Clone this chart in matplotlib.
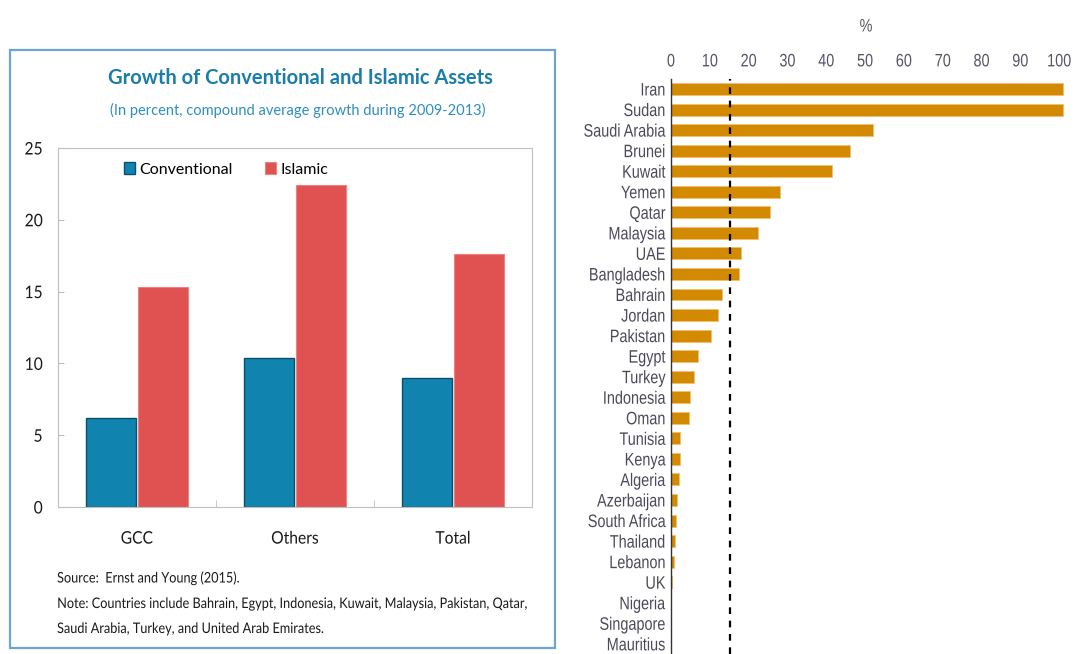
import matplotlib
matplotlib.use("Agg")
import matplotlib.pyplot as plt
from matplotlib.patches import Rectangle
from matplotlib.patheffects import AbstractPathEffect
from matplotlib.transforms import Affine2D
import numpy as np

# left panel data
groups = ["GCC", "Others", "Total"]
conventional = [6.2, 10.4, 9.0]
islamic = [15.3, 22.4, 17.6]

# right panel data
countries = ["Iran", "Sudan", "Saudi Arabia", "Brunei", "Kuwait", "Yemen", "Qatar",
             "Malaysia", "UAE", "Bangladesh", "Bahrain", "Jordan", "Pakistan", "Egypt",
             "Turkey", "Indonesia", "Oman", "Tunisia", "Kenya", "Algeria", "Azerbaijan",
             "South Africa", "Thailand", "Lebanon", "UK", "Nigeria", "Singapore", "Mauritius"]
share = [101.0, 101.0, 52.0, 46.0, 41.5, 28.0, 25.5, 22.5, 18.0, 17.6, 13.2, 12.0,
         10.2, 7.0, 6.0, 5.0, 4.7, 2.3, 2.3, 2.0, 1.5, 1.3, 1.1, 0.7, 0.2, 0.1, 0.1, 0.1]
threshold = 15.2


class Squeeze(AbstractPathEffect):
    """squeeze the glyphs sideways, no narrow font installed"""
    def __init__(self, sx, anchor="right"):
        super().__init__()
        self.sx = sx
        self.anchor = anchor

    def draw_path(self, renderer, gc, tpath, affine, rgbFace=None):
        ext = tpath.get_extents()
        if self.anchor == "right":
            cx = ext.x1
        elif self.anchor == "center":
            cx = (ext.x0 + ext.x1) / 2
        else:
            cx = ext.x0
        t = Affine2D().translate(-cx, 0).scale(self.sx, 1).translate(cx, 0)
        renderer.draw_path(gc, tpath, t + affine, rgbFace)


W, H = 1075, 654
fig = plt.figure(figsize=(W / 100, H / 100), dpi=100)

def fx(px):
    return px / W

def fy(py):
    return 1 - py / H

left_font = ["Lato", "DejaVu Sans"]
narrow = ["Liberation Sans", "DejaVu Sans"]

# box around the left panel
fig.patches.append(Rectangle((fx(10), fy(648)), fx(545), 598 / H, transform=fig.transFigure,
                             fill=False, edgecolor="#6FA3D6", linewidth=1.6))

fig.text(fx(300), fy(78), "Growth of Conventional and Islamic Assets", ha="center", va="center",
         fontsize=14.5, fontweight="bold", color="#1B7DAA", family=left_font)
fig.text(fx(298), fy(110), "(In percent, compound average growth during 2009-2013)", ha="center",
         va="center", fontsize=10.5, color="#2F8EC0", family=left_font)

ax = fig.add_axes([fx(58), fy(507), fx(474), (507 - 148) / H])
x = np.arange(len(groups))
bw = 0.32
ax.bar(x - bw / 2 - 0.005, conventional, bw, color="#1083AF", edgecolor="#0B4F6C",
       linewidth=1.0, label="Conventional")
ax.bar(x + bw / 2 + 0.005, islamic, bw, color="#E05252", edgecolor="#F08080",
       linewidth=0.8, label="Islamic")
ax.set_ylim(0, 25)
ax.set_xlim(-0.5, 2.5)
ax.set_yticks([0, 5, 10, 15, 20, 25])
ax.set_xticks(x)
ax.set_xticklabels(groups)
ax.set_xticks([0.5, 1.5], minor=True)
for s in ax.spines.values():
    s.set_color("#BFBFBF")
ax.tick_params(axis="y", direction="in", length=4, color="#BFBFBF", pad=11, labelsize=12.5)
ax.tick_params(axis="x", which="major", length=0, pad=17, labelsize=12.5)
ax.tick_params(axis="x", which="minor", direction="in", length=5, color="#BFBFBF")
for lbl in ax.get_xticklabels():
    lbl.set_family(left_font)
    lbl.set_color("#1A1A1A")
    lbl.set_path_effects([Squeeze(0.9, "center")])
for lbl in ax.get_yticklabels():
    lbl.set_family(left_font)
    lbl.set_color("#1A1A1A")
    lbl.set_path_effects([Squeeze(0.9, "right")])
ax.legend(loc="upper center", bbox_to_anchor=(0.355, 1.0), ncol=2, frameon=False,
          prop={"family": left_font, "size": 11.5}, handlelength=0.7, handleheight=0.7,
          handletextpad=0.3, columnspacing=2.0)

notes = ["Source:  Ernst and Young (2015).",
         "Note: Countries include Bahrain, Egypt, Indonesia, Kuwait, Malaysia, Pakistan, Qatar,",
         "Saudi Arabia, Turkey, and United Arab Emirates."]
for txt, py in zip(notes, [578, 604, 629]):
    t = fig.text(fx(57), fy(py), txt, fontsize=10.5, va="center", color="#1A1A1A", family=left_font)
    t.set_path_effects([Squeeze(0.87, "left")])

# right panel
row = 20.55
top_px = 89 - row / 2
bottom_px = top_px + row * len(countries)
ax2 = fig.add_axes([fx(671), fy(bottom_px), fx(394), (bottom_px - top_px) / H])
y = np.arange(len(countries))
ax2.barh(y, share, height=0.58, color="#D38A00", edgecolor="#F0C070", linewidth=0.6)
ax2.set_ylim(len(countries) - 0.5, -0.5)
ax2.set_xlim(0, 101.5)
ax2.set_yticks(y)
ax2.set_yticklabels(countries)
ax2.set_xticks(range(0, 101, 10))
ax2.xaxis.tick_top()
ax2.tick_params(axis="x", length=0, pad=6, labelsize=13, labelcolor="#555566")
ax2.tick_params(axis="y", length=0, pad=4, labelsize=13, labelcolor="#4A4A5A")
for lbl in ax2.get_xticklabels():
    lbl.set_family(narrow)
    lbl.set_path_effects([Squeeze(0.8, "center")])
for lbl in ax2.get_yticklabels():
    lbl.set_family(narrow)
    lbl.set_path_effects([Squeeze(0.8, "right")])
for k in ["top", "right", "bottom"]:
    ax2.spines[k].set_visible(False)
ax2.spines["left"].set_color("#333333")
ax2.spines["left"].set_linewidth(1.0)
ax2.axvline(threshold, color="black", linestyle=(0, (3, 3)), linewidth=1.6, clip_on=False)
pct = fig.text(fx(866), fy(27), "%", ha="center", va="center", fontsize=13, color="#555566",
               family=narrow)
pct.set_path_effects([Squeeze(0.8, "center")])

fig.savefig("out.png", dpi=100)
